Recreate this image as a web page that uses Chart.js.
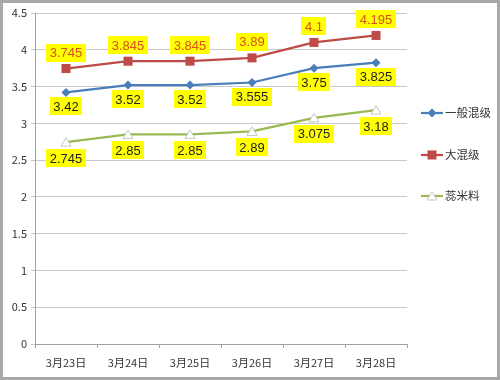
<!DOCTYPE html>
<html><head><meta charset="utf-8">
<script src="https://cdn.jsdelivr.net/npm/chart.js@4/dist/chart.umd.min.js"></script>
<style>
html,body{margin:0;padding:0;background:#fff;}
#wrap{position:relative;width:500px;height:380px;}
canvas{display:block;}
</style></head>
<body><div id="wrap"><canvas id="c" width="500" height="380"></canvas></div>
<script>
const categories = ['3月23日','3月24日','3月25日','3月26日','3月27日','3月28日'];
const seriesNames = ['一般混级','大混级','蕊米料'];
const general = [3.42, 3.52, 3.52, 3.555, 3.75, 3.825];
const large = [3.745, 3.845, 3.845, 3.89, 4.1, 4.195];
const kernel = [2.745, 2.85, 2.85, 2.89, 3.075, 3.18];
const yTicks = [0,0.5,1,1.5,2,2.5,3,3.5,4,4.5];

const FONT = '"Noto Sans CJK SC", "DejaVu Sans", sans-serif';
const LFONT = '"Liberation Sans", Arial, sans-serif';
const colors = ['#4A7EBB','#BE4B48','#98B954'];
const labelPos = ['below','above','below'];
const labelColors = ['#222','#D9501C','#222'];

function drawMarker(ctx, type, x, y, color) {
  ctx.save();
  if (type === 'diamond') {
    ctx.fillStyle = color;
    ctx.beginPath();
    ctx.moveTo(x, y-4.5); ctx.lineTo(x+4.5, y); ctx.lineTo(x, y+4.5); ctx.lineTo(x-4.5, y);
    ctx.closePath(); ctx.fill();
  } else if (type === 'square') {
    ctx.fillStyle = color;
    ctx.fillRect(x-4.5, y-4.5, 9, 9);
  } else {
    ctx.fillStyle = '#fff'; ctx.strokeStyle = '#C8C8B8'; ctx.lineWidth = 1;
    ctx.beginPath();
    ctx.moveTo(x, y-4.5); ctx.lineTo(x+5, y+4); ctx.lineTo(x-5, y+4);
    ctx.closePath(); ctx.fill(); ctx.stroke();
  }
  ctx.restore();
}
const markerTypes = ['diamond','square','triangle'];

const framePlugin = {
  id: 'frame',
  beforeDraw(chart) {
    const ctx = chart.ctx;
    ctx.save();
    ctx.fillStyle = '#fff';
    ctx.fillRect(0,0,chart.width,chart.height);
    ctx.restore();
  },
  afterDraw(chart) {
    const ctx = chart.ctx;
    ctx.save();
    ctx.strokeStyle = '#A8A8A8'; ctx.lineWidth = 3;
    ctx.strokeRect(1.5,1.5,chart.width-3,chart.height-3);
    ctx.restore();
  }
};

const markerPlugin = {
  id: 'markers',
  afterDatasetsDraw(chart) {
    const ctx = chart.ctx;
    chart.data.datasets.forEach((ds, i) => {
      const meta = chart.getDatasetMeta(i);
      meta.data.forEach(pt => drawMarker(ctx, markerTypes[i], pt.x, pt.y, colors[i]));
    });
  }
};

const labelPlugin = {
  id: 'labels',
  afterDraw(chart) {
    const ctx = chart.ctx;
    ctx.save();
    ctx.font = '13px ' + LFONT;
    ctx.textAlign = 'center';
    ctx.textBaseline = 'middle';
    chart.data.datasets.forEach((ds, i) => {
      const meta = chart.getDatasetMeta(i);
      meta.data.forEach((pt, j) => {
        const txt = String(ds.data[j]);
        const w = ctx.measureText(txt).width + 7;
        const h = 18;
        const cy = labelPos[i] === 'above' ? pt.y - 16 : pt.y + (i === 2 ? 16 : 14);
        ctx.fillStyle = '#FFFF00';
        ctx.fillRect(Math.round(pt.x - w/2), Math.round(cy - h/2), Math.round(w), h);
        ctx.fillStyle = labelColors[i];
        ctx.fillText(txt, pt.x, cy + 1);
      });
    });
    ctx.restore();
  }
};

const legendPlugin = {
  id: 'customLegend',
  afterDraw(chart) {
    const ctx = chart.ctx;
    const ys = [113, 155, 196];
    ctx.save();
    ctx.font = '11.5px ' + FONT;
    ctx.textBaseline = 'middle';
    ctx.textAlign = 'left';
    seriesNames.forEach((name, i) => {
      const y = ys[i];
      ctx.strokeStyle = colors[i]; ctx.lineWidth = 2.2;
      ctx.beginPath(); ctx.moveTo(421, y); ctx.lineTo(443, y); ctx.stroke();
      drawMarker(ctx, markerTypes[i], 432, y, colors[i]);
      ctx.fillStyle = '#333';
      ctx.fillText(name, 445, y);
    });
    ctx.restore();
  }
};

new Chart(document.getElementById('c'), {
  type: 'line',
  data: {
    labels: categories,
    datasets: [
      { label: seriesNames[0], data: general },
      { label: seriesNames[1], data: large },
      { label: seriesNames[2], data: kernel }
    ].map((d, i) => Object.assign(d, {
      borderColor: colors[i], borderWidth: 2.2, pointRadius: 0, tension: 0, fill: false
    }))
  },
  options: {
    responsive: false,
    animation: false,
    events: [],
    layout: { padding: { left: 0, right: 93, top: 13, bottom: 0 } },
    plugins: { legend: { display: false }, tooltip: { enabled: false } },
    scales: {
      x: {
        offset: true,
        grid: { display: true, drawOnChartArea: false, drawTicks: true, tickLength: 4, color: '#A0A0A0', offset: true },
        border: { display: true, color: '#A0A0A0', width: 1 },
        ticks: { font: { size: 11, family: FONT }, color: '#333', padding: 8, maxRotation: 0 },
        afterFit(s) { s.height = 36; }
      },
      y: {
        min: 0, max: 4.5,
        afterBuildTicks(s) { s.ticks = yTicks.map(v => ({ value: v })); },
        grid: { color: '#C8C8C8', lineWidth: 1, tickLength: 4, drawTicks: true },
        border: { display: true, color: '#A0A0A0', width: 1 },
        ticks: { font: { size: 11, family: FONT }, color: '#333', padding: 4,
          callback: v => String(v) },
        afterFit(s) { s.width = 35; }
      }
    }
  },
  plugins: [framePlugin, markerPlugin, labelPlugin, legendPlugin]
});
</script>
</body></html>
